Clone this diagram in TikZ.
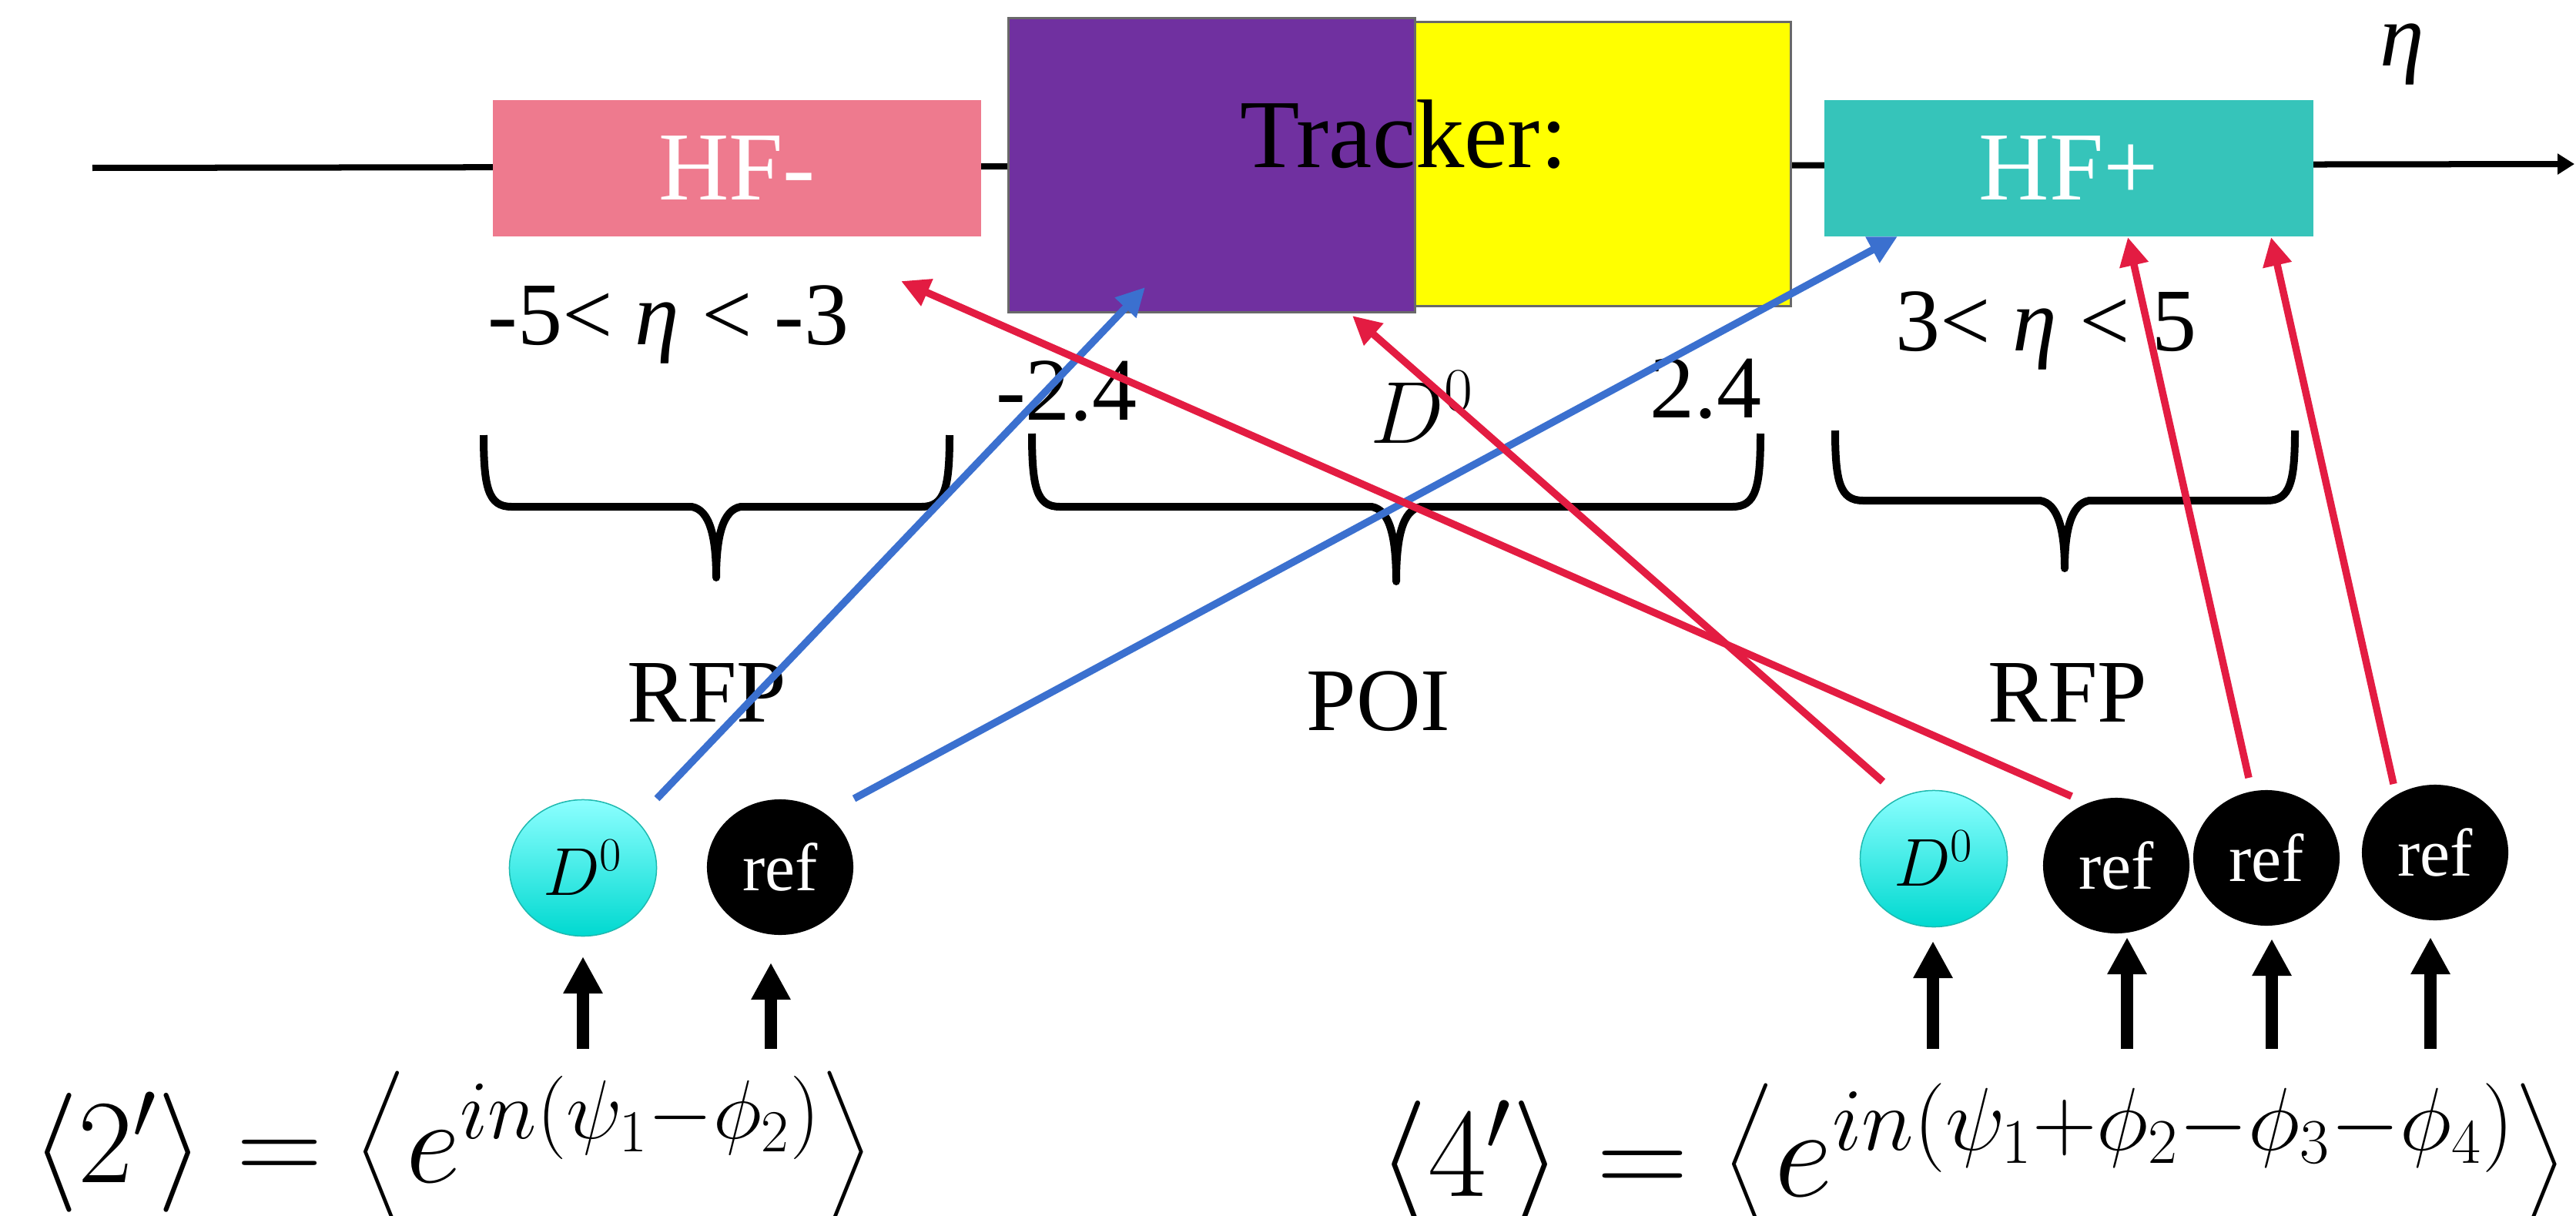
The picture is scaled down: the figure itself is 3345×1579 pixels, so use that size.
\RequirePackage{fix-cm}
\documentclass[tikz,border=0pt]{standalone}
\usepackage{exscale}
\usepackage{fontspec}
\setmainfont{Liberation Serif}
\usetikzlibrary{arrows.meta,shapes.geometric,calc}
\definecolor{hfm}{RGB}{238,122,142}
\definecolor{hfp}{RGB}{54,196,186}
\definecolor{purp}{RGB}{112,48,160}
\definecolor{yel}{RGB}{255,255,0}
\definecolor{boxgray}{RGB}{105,105,105}
\definecolor{bluec}{RGB}{59,112,207}
\definecolor{redc}{RGB}{227,28,66}
\definecolor{cyantop}{RGB}{140,255,255}
\definecolor{cyanbot}{RGB}{0,217,208}
\definecolor{cyanedge}{RGB}{30,185,175}
\newcommand{\hbrace}[6]{%
  \draw[bracestyle] (#1,#3) .. controls (#1,#4-25) and (#1+6,#4) .. (#1+36,#4)
    -- (#6-32,#4) .. controls (#6-8,#4+4) and (#6,#4+40) .. (#6,#5)
    .. controls (#6,#4+40) and (#6+8,#4+4) .. (#6+32,#4)
    -- (#2-36,#4) .. controls (#2-6,#4) and (#2,#4-25) .. (#2,#3);}
\begin{document}
\begin{tikzpicture}[x=0.01cm,y=-0.01cm,
  hfbox/.style={rectangle, inner sep=0, minimum width=6.34cm, minimum height=1.77cm, text=white, font=\fontsize{36}{40}\selectfont},
  lab/.style={inner sep=0, font=\fontsize{33}{38}\selectfont},
  bracestyle/.style={line width=0.1cm, line join=round},
  d0node/.style={ellipse, inner sep=0, minimum width=1.91cm, minimum height=1.77cm, top color=cyantop, bottom color=cyanbot, draw=cyanedge, line width=0.015cm, font=\fontsize{25}{28}\selectfont},
  refnode/.style={ellipse, inner sep=0, minimum width=1.90cm, minimum height=1.76cm, fill=black, text=white, font=\fontsize{25}{28}\selectfont},
  uparrow/.style={line width=0.155cm, -{Triangle[length=0.48cm,width=0.48cm]}},
  bluearr/.style={draw=bluec, line width=0.095cm, -{Triangle[length=0.37cm,width=0.36cm]}},
  redarr/.style={draw=redc, line width=0.095cm, -{Triangle[length=0.37cm,width=0.36cm]}}]
\useasboundingbox (0,0) rectangle (3345,1579);
% axis
\coordinate (axL) at (120,218);
\coordinate (axR) at (3343,213);
\draw[line width=0.08cm, -{Triangle[length=0.22cm,width=0.26cm]}] (axL) -- (axR);
\node[anchor=base, inner sep=0, font=\fontsize{33}{38}\selectfont] (eta) at (3119,86) {\textit{η}};
% boxes
\node[rectangle, inner sep=0, fill=yel, draw=boxgray, line width=0.03cm, minimum width=4.9cm, minimum height=3.68cm] (yelbox) at (2080,213) {};
\node[rectangle, inner sep=0, fill=purp, draw=boxgray, line width=0.03cm, minimum width=5.27cm, minimum height=3.81cm] (purbox) at (1573.5,214.5) {};
\node[anchor=base, inner sep=0, font=\fontsize{36}{40}\selectfont] (tracker) at (1823,218) {Tracker:};
\node[hfbox, fill=hfm] (hfminus) at (957,218.5) {HF-};
\node[hfbox, fill=hfp, minimum width=6.35cm] (hfplus) at (2686.5,218.5) {HF+};
% range labels
\node[lab, anchor=base] (rngL) at (868,447) {-5< \textit{η} < -3};
\node[lab, anchor=base] (rngR) at (2657,455) {3< \textit{η} < 5};
\node[lab, anchor=base] (m24) at (1385,545) {-2.4};
\node[lab, anchor=base] (p24) at (2215,542) {2.4};
\node[anchor=base, inner sep=0, font=\fontsize{32.5}{38}\selectfont] (dmid) at (1847,575) {$D^0$};
% braces
\hbrace{628}{1233}{565}{658}{750}{930}
\hbrace{1340}{2286}{563}{658}{755}{1813}
\hbrace{2383}{2980}{559}{650}{738}{2681}
\node[lab, anchor=base] (rfpL) at (918,937) {RFP};
\node[lab, anchor=base] (poi) at (1790,948) {POI};
\node[lab, anchor=base] (rfpR) at (2685,937) {RFP};
% particles
\node[d0node] (d0L) at (757,1127) {$D^0$};
\node[refnode] (refL) at (1013,1126) {ref};
\node[d0node] (d0R) at (2511,1115) {$D^0$};
\node[refnode] (refA) at (2748,1124) {ref};
\node[refnode] (refB) at (2943,1114) {ref};
\node[refnode] (refC) at (3162,1107) {ref};
% black arrows
\coordinate (s1) at (757,1362); \coordinate (t1) at (757,1242);
\coordinate (s2) at (1001,1362); \coordinate (t2) at (1001,1250);
\coordinate (s3) at (2510,1362); \coordinate (t3) at (2510,1222);
\coordinate (s4) at (2762,1362); \coordinate (t4) at (2762,1217);
\coordinate (s5) at (2950,1362); \coordinate (t5) at (2950,1219);
\coordinate (s6) at (3156,1362); \coordinate (t6) at (3156,1217);
\foreach \i in {1,...,6} {\draw[uparrow] (s\i) -- (t\i);}
% formulas
\node[anchor=base west, inner sep=0, font=\fontsize{44}{50}\selectfont] (f2) at (41,1535) {$\langle 2'\rangle = \left\langle e^{in(\psi_1-\phi_2)}\right\rangle$};
\node[anchor=base west, inner sep=0, font=\fontsize{47}{52}\selectfont] (f4) at (1789,1553) {$\langle 4'\rangle = \left\langle e^{in(\psi_1+\phi_2-\phi_3-\phi_4)}\right\rangle$};
% coloured connectors
\coordinate (pb1) at (853,1037); \coordinate (qb1) at (1487,373);
\coordinate (pb2) at (1109,1037); \coordinate (qb2) at (2464,307);
\coordinate (pr1) at (2445,1015); \coordinate (qr1) at (1756,410);
\coordinate (pr2) at (2690,1034); \coordinate (qr2) at (1170,365);
\coordinate (pr3) at (2920,1010); \coordinate (qr3) at (2763,308);
\coordinate (pr4) at (3108,1018); \coordinate (qr4) at (2949,308);
\draw[bluearr] (pb1) -- (qb1);
\draw[bluearr] (pb2) -- (qb2);
\draw[redarr] (pr1) -- (qr1);
\draw[redarr] (pr2) -- (qr2);
\draw[redarr] (pr3) -- (qr3);
\draw[redarr] (pr4) -- (qr4);
\end{tikzpicture}
\end{document}
